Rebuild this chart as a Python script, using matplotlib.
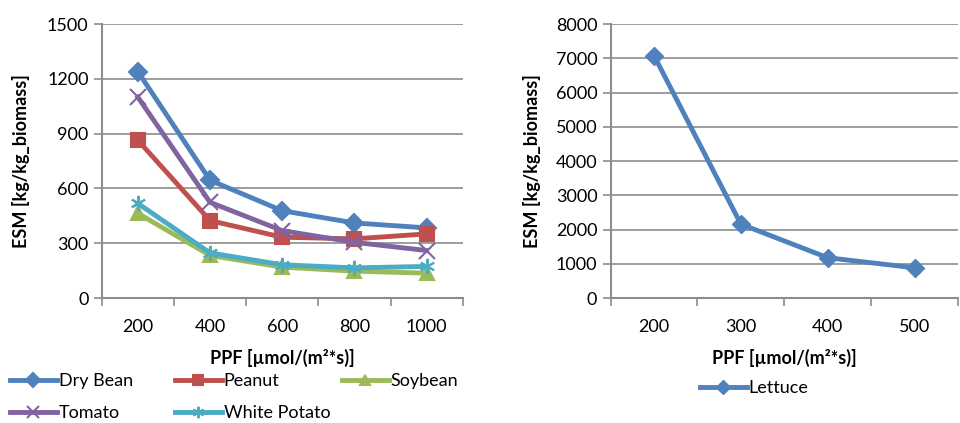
import matplotlib
matplotlib.use("Agg")
import matplotlib.pyplot as plt
from matplotlib.ticker import FixedLocator, NullFormatter

plt.rcParams['font.family'] = ['Lato', 'DejaVu Sans']

# left chart data
ppf_left = ['200', '400', '600', '800', '1000']
dry_bean = [1240, 645, 478, 411, 384]
peanut = [864, 424, 333, 324, 351]
soybean = [464, 233, 169, 147, 136]
tomato = [1100, 524, 369, 305, 260]
white_potato = [518, 247, 182, 165, 173]

# right chart data
ppf_right = ['200', '300', '400', '500']
lettuce = [7080, 2157, 1176, 882]

GRID = '#8c8c8c'

series = [
    ('Dry Bean', dry_bean, '#4F81BD', 'D', 9),
    ('Peanut', peanut, '#C0504D', 's', 10),
    ('Soybean', soybean, '#9BBB59', '^', 10),
    ('Tomato', tomato, '#8064A2', 'x', 11),
    ('White Potato', white_potato, '#4BACC6', (6, 2, 0), 11),
]

# legend entry anchors in figure pixels (line start x, row centre y)
legend_spots = {
    'Dry Bean': (10, 381), 'Peanut': (175, 381), 'Soybean': (342, 381),
    'Tomato': (10, 413), 'White Potato': (175, 413), 'Lettuce': (700, 388),
}


def style_axes(ax, cats, ymax, ystep):
    n = len(cats)
    ax.set_xlim(-0.5, n - 0.5)
    ax.set_ylim(0, ymax)
    ax.set_yticks(range(0, ymax + 1, ystep))
    ax.xaxis.set_major_locator(FixedLocator([i - 0.5 for i in range(n + 1)]))
    ax.xaxis.set_major_formatter(NullFormatter())
    ax.xaxis.set_minor_locator(FixedLocator(list(range(n))))
    ax.set_xticklabels(cats, minor=True)
    ax.tick_params(axis='x', which='major', length=6, color=GRID, width=1.2)
    ax.tick_params(axis='x', which='minor', length=0, labelsize=13, pad=15)
    ax.tick_params(axis='y', length=6, color=GRID, width=1.2, labelsize=13)
    ax.grid(axis='y', color=GRID, linewidth=1.2)
    ax.set_axisbelow(True)
    for s in ['top', 'right']:
        ax.spines[s].set_visible(False)
    for s in ['left', 'bottom']:
        ax.spines[s].set_color(GRID)
        ax.spines[s].set_linewidth(1.5)
    ax.set_xlabel('PPF [µmol/(m²*s)]', fontsize=13, fontweight='bold', labelpad=10)
    ax.set_ylabel('ESM [kg/kg_biomass]', fontsize=13, fontweight='bold')


def add_entry(fig, line, name):
    px, py = legend_spots[name]
    fig.legend([line], [name], loc='center left',
               bbox_to_anchor=(px / 960, 1 - py / 423), frameon=False,
               fontsize=13, handlelength=2.6, handletextpad=0.1,
               borderaxespad=0, borderpad=0, markerscale=0.75)


fig = plt.figure(figsize=(9.6, 4.23), dpi=100)
ax1 = fig.add_axes([0.106, 0.2955, 0.376, 0.6475])
ax2 = fig.add_axes([0.636, 0.2955, 0.362, 0.6475])

x1 = list(range(len(ppf_left)))
for name, vals, col, mk, ms in series:
    ln = ax1.plot(x1, vals, color=col, linewidth=3.5, marker=mk,
                  markersize=ms, markeredgewidth=1.5,
                  markeredgecolor=col, label=name)[0]
    add_entry(fig, ln, name)
style_axes(ax1, ppf_left, 1500, 300)
ax1.yaxis.set_label_coords(-0.2, 0.5)

x2 = list(range(len(ppf_right)))
ln = ax2.plot(x2, lettuce, color='#4F81BD', linewidth=3.5, marker='D',
              markersize=9, label='Lettuce')[0]
add_entry(fig, ln, 'Lettuce')
style_axes(ax2, ppf_right, 8000, 1000)
ax2.yaxis.set_label_coords(-0.2, 0.5)

fig.savefig('out.png', dpi=100)
